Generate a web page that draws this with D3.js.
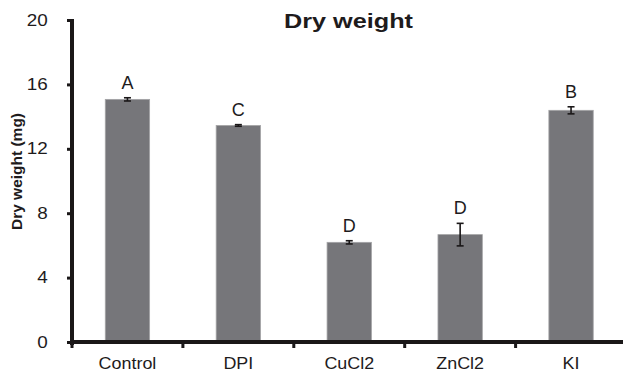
<!DOCTYPE html>
<html>
<head>
<meta charset="utf-8">
<script src="https://cdn.jsdelivr.net/npm/d3@7"></script>
<style>
  body { margin: 0; background: #fff; }
  text { font-family: "Liberation Sans", Arial, sans-serif; fill: #1e1b1c; }
</style>
</head>
<body>
<div id="chart"></div>
<script>
// data
const treatments = ["Control", "DPI", "CuCl2", "ZnCl2", "KI"];
const dryWeight = [15.07, 13.45, 6.19, 6.67, 14.39];
const stdErr = [0.1, 0.05, 0.1, 0.7, 0.22];
const groupLetters = ["A", "C", "D", "D", "B"];
const yTicks = [0, 4, 8, 12, 16, 20];

const W = 623, H = 373;
const margin = {top: 20, right: 0, bottom: 31, left: 72};
const ink = "#1a1718";

const svg = d3.select("#chart").append("svg")
    .attr("width", W)
    .attr("height", H);

// scales
const x = d3.scaleBand()
    .domain(treatments)
    .range([margin.left, 626.5])
    .paddingInner(0.6)
    .paddingOuter(0.3);

const y = d3.scaleLinear()
    .domain([0, 20])
    .range([H - margin.bottom, margin.top]);

// bars
svg.append("g").selectAll("rect")
    .data(treatments)
    .enter().append("rect")
    .attr("x", d => x(d))
    .attr("y", (d, i) => y(dryWeight[i]))
    .attr("width", x.bandwidth())
    .attr("height", (d, i) => y(0) - y(dryWeight[i]))
    .attr("fill", "#76767a")
    .attr("stroke", "#a4a4a6")
    .attr("stroke-width", 0.8);

// error bars
const err = svg.append("g").attr("stroke", ink).attr("stroke-width", 1.6);
treatments.forEach((d, i) => {
    const cx = x(d) + x.bandwidth() / 2;
    const hi = y(dryWeight[i] + stdErr[i]), lo = y(dryWeight[i] - stdErr[i]);
    err.append("line").attr("x1", cx).attr("x2", cx).attr("y1", hi).attr("y2", lo);
    err.append("line").attr("x1", cx - 3.5).attr("x2", cx + 3.5).attr("y1", hi).attr("y2", hi);
    err.append("line").attr("x1", cx - 3.5).attr("x2", cx + 3.5).attr("y1", lo).attr("y2", lo);
});

// significance letters
svg.append("g").selectAll("text")
    .data(treatments)
    .enter().append("text")
    .attr("x", d => x(d) + x.bandwidth() / 2)
    .attr("y", (d, i) => y(dryWeight[i] + stdErr[i]) - 9)
    .attr("text-anchor", "middle")
    .attr("font-size", 18)
    .text((d, i) => groupLetters[i]);

// y axis (thick line drawn as a filled rect)
const yAxis = svg.append("g")
    .attr("transform", `translate(${margin.left},0)`)
    .call(d3.axisLeft(y).tickValues(yTicks).tickSize(0).tickPadding(12));
yAxis.select(".domain").remove();
yAxis.append("rect")
    .attr("x", -2).attr("width", 4)
    .attr("y", y(20) - 1).attr("height", y(0) - y(20) + 4)
    .attr("fill", ink);
yAxis.selectAll(".tick").append("rect")
    .attr("x", -5).attr("width", 5)
    .attr("y", -1.5).attr("height", 3)
    .attr("fill", ink);
yAxis.selectAll(".tick text")
    .attr("font-size", 16)
    .attr("fill", ink)
    .attr("transform", "translate(-10,0) scale(1.18,1)")
    .attr("text-anchor", "end");

// x axis
const xAxis = svg.append("g")
    .attr("transform", `translate(0,${y(0)})`);
xAxis.append("rect")
    .attr("x", margin.left - 2).attr("width", W - margin.left + 2)
    .attr("y", -2).attr("height", 4)
    .attr("fill", ink);
const bounds = treatments.map(d => x(d) - x.step() * x.paddingInner() / 2);
xAxis.selectAll(".xtick")
    .data(bounds)
    .enter().append("rect")
    .attr("x", d => d - 1.5).attr("width", 3)
    .attr("y", 0).attr("height", 6)
    .attr("fill", ink);
xAxis.selectAll(".xlab")
    .data(treatments)
    .enter().append("text")
    .attr("transform", d => `translate(${x(d) + x.bandwidth() / 2},27) scale(1.12,1)`)
    .attr("text-anchor", "middle")
    .attr("font-size", 16)
    .text(d => d);

// title
svg.append("text")
    .attr("x", 348.5)
    .attr("y", 28)
    .attr("text-anchor", "middle")
    .attr("font-size", 21)
    .attr("font-weight", "bold")
    .attr("textLength", 129)
    .attr("lengthAdjust", "spacingAndGlyphs")
    .text("Dry weight");

// y axis label
svg.append("text")
    .attr("transform", `translate(22,${(113 + 230) / 2}) rotate(-90)`)
    .attr("text-anchor", "middle")
    .attr("font-size", 15)
    .attr("font-weight", "bold")
    .attr("textLength", 117)
    .attr("lengthAdjust", "spacingAndGlyphs")
    .text("Dry weight (mg)");
</script>
</body>
</html>
